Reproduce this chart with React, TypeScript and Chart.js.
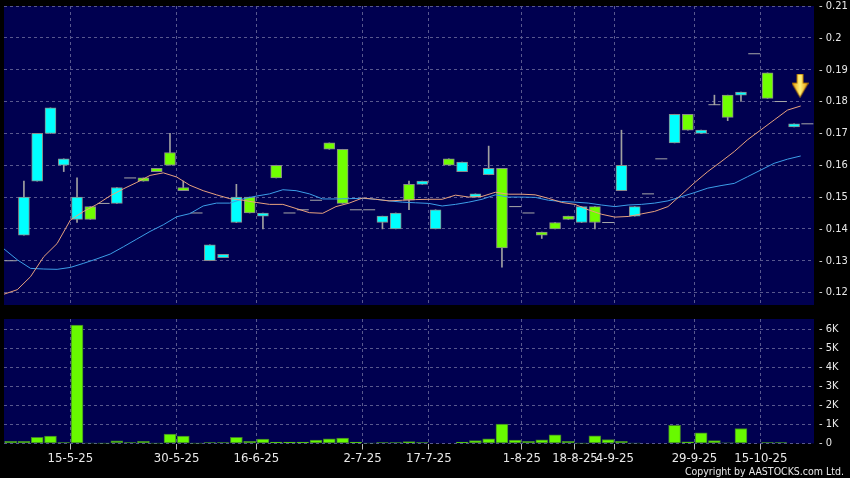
import React, { useEffect, useRef } from 'react';
import { Chart, registerables } from 'chart.js';

Chart.register(...registerables);

// ---------- data ----------
const opens = [
  0.13, 0.138, 0.155, 0.17, 0.16, 0.143, 0.147, 0.148, 0.148, 0.156,
  0.156, 0.159, 0.164, 0.153, 0.145, 0.13, 0.131, 0.142, 0.15, 0.144,
  0.16, 0.145, 0.146, 0.149, 0.167, 0.165, 0.146, 0.146, 0.142, 0.14,
  0.154, 0.154, 0.14, 0.162, 0.158, 0.15, 0.157, 0.159, 0.147, 0.145,
  0.139, 0.142, 0.144, 0.142, 0.147, 0.142, 0.152, 0.144, 0.151, 0.162,
  0.167, 0.176, 0.17, 0.179, 0.182, 0.182, 0.195, 0.189, 0.18, 0.172,
  0.173,
];
const highs = [
  0.13, 0.155, 0.17, 0.178, 0.162, 0.156, 0.147, 0.148, 0.153, 0.156,
  0.156, 0.159, 0.17, 0.155, 0.145, 0.135, 0.132, 0.154, 0.15, 0.145,
  0.16, 0.145, 0.146, 0.149, 0.167, 0.165, 0.146, 0.146, 0.144, 0.145,
  0.155, 0.155, 0.146, 0.162, 0.161, 0.151, 0.166, 0.159, 0.147, 0.145,
  0.139, 0.142, 0.144, 0.147, 0.147, 0.142, 0.171, 0.147, 0.151, 0.162,
  0.176, 0.176, 0.171, 0.182, 0.182, 0.183, 0.195, 0.189, 0.18, 0.173,
  0.173,
];
const lows = [
  0.13, 0.138, 0.155, 0.17, 0.158, 0.142, 0.143, 0.148, 0.148, 0.156,
  0.155, 0.158, 0.16, 0.152, 0.145, 0.13, 0.131, 0.142, 0.145, 0.14,
  0.156, 0.145, 0.146, 0.149, 0.165, 0.148, 0.146, 0.146, 0.14, 0.14,
  0.146, 0.154, 0.14, 0.16, 0.158, 0.15, 0.157, 0.128, 0.147, 0.145,
  0.137, 0.14, 0.143, 0.142, 0.14, 0.142, 0.152, 0.144, 0.151, 0.162,
  0.167, 0.171, 0.17, 0.179, 0.174, 0.18, 0.195, 0.181, 0.18, 0.172,
  0.173,
];
const closes = [
  0.13, 0.15, 0.17, 0.178, 0.162, 0.15, 0.143, 0.148, 0.153, 0.156,
  0.155, 0.158, 0.16, 0.152, 0.145, 0.135, 0.132, 0.15, 0.145, 0.145,
  0.156, 0.145, 0.146, 0.149, 0.165, 0.148, 0.146, 0.146, 0.144, 0.145,
  0.149, 0.155, 0.146, 0.16, 0.161, 0.151, 0.159, 0.134, 0.147, 0.145,
  0.138, 0.14, 0.143, 0.147, 0.142, 0.142, 0.16, 0.147, 0.151, 0.162,
  0.176, 0.171, 0.171, 0.179, 0.175, 0.183, 0.195, 0.181, 0.18, 0.173,
  0.173,
];
const maShort = [
  0.1195, 0.1209, 0.125, 0.1313, 0.1354, 0.1428, 0.1455, 0.1477, 0.1504, 0.1526,
  0.1546, 0.1568, 0.1576, 0.1563, 0.1537, 0.152, 0.1507, 0.1495, 0.149, 0.1483,
  0.1477, 0.1477, 0.1464, 0.1451, 0.1449, 0.147, 0.1481, 0.1497, 0.1493, 0.1488,
  0.149, 0.1492, 0.1493, 0.1493, 0.1506, 0.15, 0.1502, 0.1515, 0.1509, 0.1509,
  0.1507, 0.1496, 0.1483, 0.1477, 0.146, 0.1446, 0.1437, 0.1439, 0.1447, 0.1455,
  0.147, 0.1507, 0.1545, 0.158, 0.1611, 0.1643, 0.168, 0.1711, 0.1742, 0.1773,
  0.1786,
];
const maLong = [
  0.1337, 0.1303, 0.1276, 0.1274, 0.1273, 0.1279, 0.1292, 0.1306, 0.1321, 0.1344,
  0.1368, 0.1392, 0.1413, 0.1438, 0.1448, 0.1472, 0.1481, 0.1481, 0.1494, 0.1503,
  0.151, 0.1523, 0.152, 0.151, 0.1494, 0.1494, 0.1495, 0.1496, 0.1493, 0.1488,
  0.1484, 0.1482, 0.148, 0.1472, 0.1477, 0.1484, 0.1493, 0.1507, 0.15, 0.15,
  0.1499, 0.149, 0.1486, 0.1484, 0.1481, 0.1475, 0.147, 0.1475, 0.1477, 0.1481,
  0.1488, 0.1501, 0.1514, 0.1528, 0.1536, 0.1543, 0.1564, 0.1585, 0.1606, 0.1619,
  0.1629,
];
const volumes = [
  120, 120, 320, 390, 50, 6230, 15, 10, 140, 50,
  120, 10, 490, 390, 10, 50, 50, 320, 120, 230,
  70, 70, 70, 180, 250, 280, 70, 20, 50, 50,
  100, 50, 0, 0, 70, 160, 250, 1020, 180, 120,
  190, 460, 120, 10, 400, 210, 120, 20, 0, 0,
  960, 90, 560, 160, 30, 790, 0, 50, 50, 0,
  0,
];
const priceTicks = [0.12, 0.13, 0.14, 0.15, 0.16, 0.17, 0.18, 0.19, 0.2, 0.21];
const volumeTicks = [0, 1000, 2000, 3000, 4000, 5000, 6000];
const dateTickPositions = [4.5, 12.5, 18.5, 26.5, 31.5, 38.5, 42.5, 45.5, 51.5, 56.5];
const dateLabels = ['15-5-25', '30-5-25', '16-6-25', '2-7-25', '17-7-25', '1-8-25', '18-8-25', '4-9-25', '29-9-25', '15-10-25'];
const arrowMarker = [{ x: 59.45, y: 0.185 }];

// ---------- styles ----------
const BG = '#000050';
const GRID = '#58588e';
const UP = '#00ffff';
const DOWN = '#70ff00';
const TEXT = '#e8e8e8';
const FONT = "'DejaVu Sans Condensed', 'DejaVu Sans', sans-serif";

const plotBg = {
  id: 'plotBg',
  beforeDraw(chart: any) {
    const { ctx, chartArea: a } = chart;
    ctx.save();
    ctx.fillStyle = BG;
    ctx.fillRect(a.left, a.top, a.right - a.left, a.bottom - a.top);
    ctx.restore();
  },
};

function makeArrow() {
  const c = document.createElement('canvas');
  c.width = 17;
  c.height = 24;
  const g = c.getContext('2d')!;
  const grad = g.createLinearGradient(0, 0, 17, 0);
  grad.addColorStop(0, '#e59400');
  grad.addColorStop(0.5, '#fff27a');
  grad.addColorStop(1, '#e59400');
  g.fillStyle = grad;
  g.beginPath();
  g.moveTo(5.5, 0.5);
  g.lineTo(11.5, 0.5);
  g.lineTo(11.5, 9.5);
  g.lineTo(16.5, 9.5);
  g.lineTo(8.5, 23.5);
  g.lineTo(0.5, 9.5);
  g.lineTo(5.5, 9.5);
  g.closePath();
  g.fill();
  g.strokeStyle = '#b87800';
  g.lineWidth = 1;
  g.stroke();
  return c;
}

const fmtPrice = (v: number) => String(Math.round(v * 100) / 100);

export default function App() {
  const priceRef = useRef<HTMLCanvasElement>(null);
  const volRef = useRef<HTMLCanvasElement>(null);

  useEffect(() => {
    const idx = opens.map((_, i) => i);
    const bodyIdx = idx.filter((i) => opens[i] !== closes[i]);
    const dojiIdx = idx.filter((i) => opens[i] === closes[i]);
    const wickIdx = idx.filter((i) => highs[i] > lows[i]);

    const xBase = (labels: boolean) => ({
      type: 'linear' as const,
      min: -0.5,
      max: opens.length - 0.5,
      offset: false,
      afterBuildTicks: (s: any) => {
        s.ticks = dateTickPositions.map((v) => ({ value: v }));
      },
      ticks: {
        display: labels,
        autoSkip: false,
        maxRotation: 0,
        minRotation: 0,
        color: TEXT,
        padding: 1,
        font: { family: FONT, size: 13 },
        callback: (_v: any, i: number) => dateLabels[i],
      },
      grid: { color: GRID, offset: false, drawTicks: labels, tickLength: 6, tickColor: '#bbbbbb', lineWidth: 1 },
      border: { display: false, dash: [3, 3] },
      afterFit: (s: any) => {
        s.height = labels ? 34.5 : 5;
        s.paddingLeft = 0;
        s.paddingRight = 0;
      },
    });

    const yFit = (s: any) => {
      s.width = 36;
      s.paddingTop = 0;
      s.paddingBottom = 0;
    };

    const price = new Chart(priceRef.current!, {
      type: 'scatter',
      data: {
        datasets: [
          {
            type: 'line',
            label: 'MA short',
            data: maShort.map((v, k) => ({ x: k - 0.5, y: v })),
            borderColor: '#e8a27e',
            borderWidth: 1,
            pointRadius: 0,
            tension: 0,
            order: 0,
          } as any,
          {
            type: 'line',
            label: 'MA long',
            data: maLong.map((v, k) => ({ x: k - 0.5, y: v })),
            borderColor: '#3c9ee8',
            borderWidth: 1,
            pointRadius: 0,
            tension: 0,
            order: 0,
          },
          {
            type: 'scatter',
            label: 'marker',
            data: arrowMarker,
            pointStyle: makeArrow(),
            order: 0,
          },
          {
            type: 'bar',
            label: 'body',
            data: bodyIdx.map((i) => ({ x: i, y: [opens[i], closes[i]] })),
            backgroundColor: bodyIdx.map((i) => (closes[i] > opens[i] ? UP : DOWN)),
            borderColor: '#8a8a8a',
            borderWidth: 1,
            borderSkipped: false,
            barThickness: 11,
            grouped: false,
            order: 1,
          },
          {
            type: 'scatter',
            label: 'doji',
            data: dojiIdx.map((i) => ({ x: i, y: opens[i] })),
            pointStyle: 'line',
            pointRadius: 6,
            borderColor: '#a8a8a8',
            borderWidth: 1,
            order: 2,
          },
          {
            type: 'bar',
            label: 'wick',
            data: wickIdx.map((i) => ({ x: i, y: [lows[i], highs[i]] })),
            backgroundColor: '#a0a0a0',
            borderWidth: 0,
            barThickness: 1,
            grouped: false,
            order: 3,
          },
        ] as any,
      },
      options: {
        animation: false,
        responsive: false,
        devicePixelRatio: 1,
        events: [],
        layout: { autoPadding: false, padding: { top: 6, left: 4, right: 0, bottom: 0 } },
        plugins: { legend: { display: false }, tooltip: { enabled: false } },
        scales: {
          x: xBase(false),
          y: {
            type: 'linear',
            position: 'right',
            min: 0.1161,
            max: 0.21,
            afterBuildTicks: (s: any) => {
              s.ticks = priceTicks.map((v) => ({ value: v }));
            },
            ticks: {
              color: TEXT,
              padding: 5,
              autoSkip: false,
              font: { family: FONT, size: 11 },
              callback: (v: any) => '- ' + fmtPrice(Number(v)),
            },
            grid: { color: GRID, drawTicks: false },
            border: { display: false, dash: [3, 3] },
            afterFit: yFit,
          },
        },
      } as any,
      plugins: [plotBg],
    });

    const vol = new Chart(volRef.current!, {
      type: 'bar',
      data: {
        datasets: [
          {
            label: 'Volume',
            data: volumes.map((v, i) => ({ x: i, y: v })),
            backgroundColor: '#68fa00',
            borderColor: '#3f7f2a',
            borderWidth: 1,
            borderSkipped: false,
            barThickness: 12,
            grouped: false,
          },
        ],
      },
      options: {
        animation: false,
        responsive: false,
        devicePixelRatio: 1,
        events: [],
        layout: { autoPadding: false, padding: { top: 9, left: 4, right: 0, bottom: 0 } },
        plugins: { legend: { display: false }, tooltip: { enabled: false } },
        scales: {
          x: xBase(true),
          y: {
            type: 'linear',
            position: 'right',
            min: 0,
            max: 6550,
            afterBuildTicks: (s: any) => {
              s.ticks = volumeTicks.map((v) => ({ value: v }));
            },
            ticks: {
              color: TEXT,
              padding: 5,
              autoSkip: false,
              font: { family: FONT, size: 11 },
              callback: (v: any) => '- ' + (Number(v) === 0 ? '0' : Number(v) / 1000 + 'K'),
            },
            grid: { color: GRID, drawTicks: false },
            border: { display: false, dash: [3, 3] },
            afterFit: yFit,
          },
        },
      } as any,
      plugins: [plotBg],
    });

    return () => {
      price.destroy();
      vol.destroy();
    };
  }, []);

  return (
    <div style={{ position: 'fixed', left: 0, top: 0, width: 850, height: 478, background: '#000', overflow: 'hidden' }}>
      <canvas ref={priceRef} width={850} height={310} style={{ position: 'absolute', left: 0, top: 0 }} />
      <canvas ref={volRef} width={850} height={168} style={{ position: 'absolute', left: 0, top: 310 }} />
      <div
        style={{
          position: 'absolute',
          right: 6,
          top: 466,
          fontFamily: FONT,
          fontSize: 10.5,
          lineHeight: '10.5px',
          color: TEXT,
          whiteSpace: 'nowrap',
        }}
      >
        Copyright by AASTOCKS.com Ltd.
      </div>
    </div>
  );
}
